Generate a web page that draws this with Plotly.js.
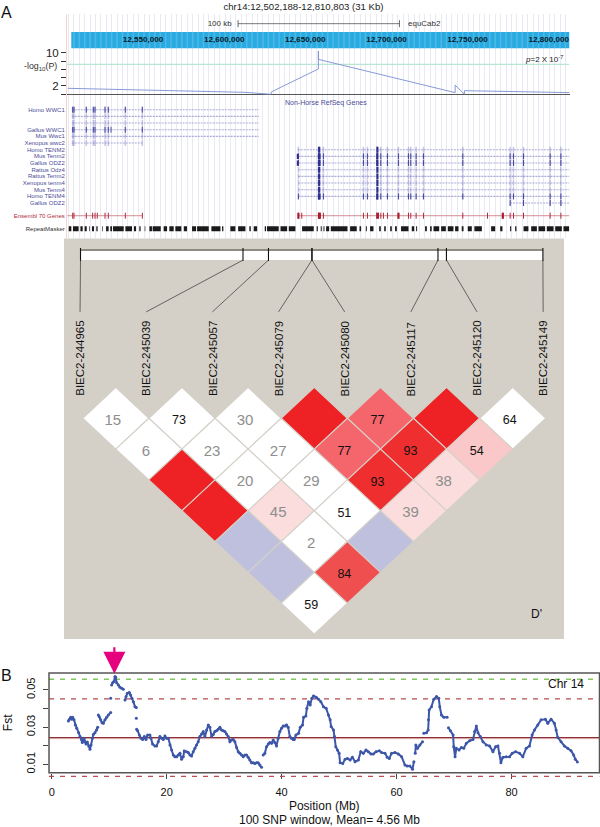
<!DOCTYPE html>
<html><head><meta charset="utf-8">
<script src="https://cdn.plot.ly/plotly-3.0.1.min.js"></script>
<style>html,body{margin:0;padding:0;background:#fff}</style></head>
<body><div id="chart" style="width:600px;height:827px"></div>
<script>
// ---------- Panel A : genome browser (positions in kb) ----------
const bandTicks = [12550,12600,12650,12700,12750,12800];
const bandLabels = ['12,550,000','12,600,000','12,650,000','12,700,000','12,750,000','12,800,000'];
const lodPos = [12491.06,12600.37,12616.21,12616.7,12645.56,12645.56,12645.56,12645.56,12729.83,12729.83,12735.56,12735.56,12800.43];
const lodVal = [1.44,0.47,0,0.6,6.1,10.4,6.1,8.4,0.4,2.2,0,0.87,0.4];
const threshold = 7.2;
const trackNames = ['Homo WWC1','','','Gallus WWC1','Mus Wwc1','Xenopus wwc2','Homo TENM2','Mus Tenm2','Gallus ODZ2','Rattus Odz4','Rattus Tenm2','Xenopus tenm4','Mus Tenm4','Homo TENM4','Gallus ODZ2'];
const geneStart = [12493.53,12493.53,12493.53,12493.53,12493.53,12493.53,12632.84,12633.25,12633.25,12633.25,12633.25,12633.25,12633.25,12633.25,12763.74];
const geneEnd = [12608.81,12608.81,12608.81,12608.81,12608.81,12537.05,12800.3,12800.3,12800.3,12800.3,12800.3,12800.3,12800.3,12800.3,12800.3];
const wwcExons = [12494.14,12494.95,12502.53,12506.85,12507.89,12514.06,12516.09,12526.57,12537.05];
const tenmExons = [12633.25,12645.58,12645.99,12646.61,12648.66,12673.32,12675.79,12681.54,12681.95,12684.01,12688.12,12694.9,12701.07,12702.5,12705.79,12710.31,12734.56,12763.74,12765.8,12771.96,12788.4,12795.0];
const tenmThick = [12645.99,12681.95];
const odz2Exons = [12763.74,12771.96,12788.4,12795.0];
const ensemblSpans = [[12490.84,12537.07],[12632.84,12800.32]];
const ensemblExons = [12494.14,12494.95,12502.53,12506.44,12507.89,12509.3,12514.06,12516.09,12526.57,12537.07,12633.25,12635.3,12645.58,12646.61,12648.66,12673.32,12675.79,12681.54,12682.57,12684.01,12685.65,12688.12,12694.9,12701.07,12702.5,12705.79,12710.31,12734.56,12749.77,12759.22,12763.74,12765.8,12771.96,12788.4,12795.0];
const ensemblThick = [12633.25,12645.99,12646.4,12682.0,12694.9,12759.22];
const repeatStart = [12491.7,12494.3,12498.9,12501.5,12504.4,12506.0,12508.7,12512.2,12514.7,12517.3,12519.0,12526.6,12531.9,12535.2,12538.5,12541.4,12543.4,12550.2,12553.7,12557.4,12562.6,12567.7,12570.8,12579.6,12586.2,12591.3,12596.1,12603.0,12605.7,12612.5,12613.9,12622.2,12627.3,12635.5,12644.5,12647.0,12648.7,12650.3,12653.2,12665.1,12670.9,12674.8,12677.4,12683.0,12686.1,12689.8,12692.8,12696.5,12703.1,12705.8,12711.3,12714.4,12716.5,12721.2,12725.3,12729.8,12733.9,12737.6,12741.7,12752.0,12757.6,12763.7,12766.8,12772.0,12776.7,12781.2,12786.3,12791.5,12796.6];
const repeatEnd = [12493.3,12497.8,12500.3,12502.8,12504.8,12507.3,12509.5,12512.6,12516.3,12518.4,12525.6,12530.7,12533.2,12536.0,12538.9,12543.0,12548.4,12552.3,12556.4,12561.1,12564.6,12570.2,12578.0,12585.2,12587.0,12594.4,12600.6,12603.9,12607.8,12613.3,12621.1,12626.3,12631.4,12642.7,12645.2,12647.6,12649.3,12652.2,12663.5,12669.2,12671.9,12675.4,12679.5,12684.0,12687.1,12690.8,12693.9,12701.1,12704.6,12706.4,12712.4,12715.4,12720.0,12724.1,12728.8,12731.9,12735.0,12740.1,12746.3,12754.5,12759.0,12764.4,12767.6,12775.0,12780.2,12785.3,12790.5,12795.6,12800.1];

// ---------- LD map ----------
const snpNames = ['BIEC2-244965','BIEC2-245039','BIEC2-245057','BIEC2-245079','BIEC2-245080','BIEC2-245117','BIEC2-245120','BIEC2-245149'];
const snpMapPos = [-0.033,2.423,2.808,3.465,3.465,5.37,5.498,6.956];
// D' by distance between markers; 100 draws no number. Low-LOD cells carry 'L'
const ldRow1 = [15,73,30,100,77,100,64];
const ldRow2 = [6,23,27,77,93,54];
const ldRow3 = [100,20,29,93,38];
const ldRow4 = [100,45,51,39];
const ldRow5 = ['L',2,'L'];
const ldRow6 = ['L',84];
const ldRow7 = [59];
const ldBlackText = [73,77,93,64,54,51,84,59];

// ---------- Panel B : Fst ----------
const fstPos = [2.90,3.07,3.30,3.48,3.65,3.88,4.11,4.35,4.69,4.92,5.21,5.33,5.62,5.79,5.97,6.20,6.43,6.66,6.84,7.07,7.24,7.53,7.82,8.00,null,
8.11,8.29,8.52,8.75,8.98,9.27,9.56,9.85,10.26,null,10.26,null,10.43,10.60,10.83,11.01,11.12,11.30,11.59,11.88,12.17,12.46,null,12.75,12.92,13.15,13.50,13.73,13.96,14.20,14.49,14.72,null,14.72,null,
14.77,14.95,15.24,15.53,15.82,16.11,16.40,16.69,17.09,17.27,17.56,17.96,18.25,18.54,18.83,19.12,19.41,19.70,19.99,20.28,20.57,20.86,21.15,21.44,21.73,22.02,22.31,22.60,22.89,23.06,23.47,23.76,24.05,24.33,24.62,24.91,25.20,25.49,25.78,26.07,26.36,26.65,26.94,27.23,27.52,27.81,28.10,28.39,28.68,28.97,29.26,29.55,29.84,30.13,30.42,30.71,31.00,31.29,31.58,31.87,32.16,32.45,32.74,33.03,33.32,33.61,33.90,34.18,34.47,34.76,35.05,35.34,35.63,35.92,36.21,36.50,null,
36.79,37.08,37.37,37.66,37.95,38.24,38.53,38.82,39.11,39.40,39.69,39.98,40.27,40.56,40.85,41.14,41.43,41.72,42.01,42.20,42.49,42.95,43.24,43.64,43.82,44.22,44.39,44.68,44.97,45.26,45.55,46.01,46.42,46.82,47.28,47.75,48.15,48.44,48.61,49.02,49.19,49.42,49.71,50.00,50.17,50.64,51.04,51.45,51.91,52.31,52.78,53.35,53.76,54.22,54.68,55.09,55.55,55.95,56.42,56.99,57.40,57.98,58.38,58.73,59.13,59.71,60.29,60.87,61.45,61.85,62.31,62.77,63.01,null,
63.24,63.35,63.64,64.05,64.51,null,64.74,65.20,65.49,65.55,65.66,66.07,66.47,66.94,67.34,67.51,67.80,68.21,68.79,null,69.02,69.36,69.83,69.94,70.17,70.40,70.87,71.27,71.68,72.14,72.72,73.29,73.58,73.87,74.16,74.57,75.03,75.61,76.18,76.76,77.22,77.63,77.92,78.15,78.50,79.07,79.65,80.11,80.69,81.39,81.96,82.54,83.12,83.58,83.99,84.57,85.14,85.89,86.30,86.88,87.46,87.75,88.03,88.61,89.19,89.77,90.35,90.81,91.10,91.45];
const fstVal = [.0333,.0342,.0353,.0342,.0353,.0339,.0312,.0294,.0270,.0249,.0234,.0217,.0240,.0222,.0209,.0220,.0199,.0181,.0204,.0240,.0261,.0270,.0285,.0299,null,
.0365,.0356,.0339,.0324,.0321,.0339,.0353,.0365,.0378,null,.0455,null,.0527,.0539,.0545,.0572,.0568,.0539,.0527,.0514,.0509,.0504,null,.0446,.0464,.0482,.0486,.0473,.0455,.0437,.0410,.0405,null,.0348,null,
.0288,.0281,.0258,.0240,.0234,.0249,.0234,.0258,.0258,.0240,.0209,.0199,.0199,.0222,.0249,.0240,.0234,.0252,.0240,.0240,.0204,.0177,.0150,.0141,.0141,.0150,.0159,.0127,.0141,.0172,.0168,.0163,.0150,.0145,.0168,.0186,.0204,.0222,.0249,.0263,.0276,.0249,.0285,.0312,.0299,.0249,.0261,.0276,.0281,.0288,.0299,.0285,.0281,.0276,.0263,.0249,.0222,.0231,.0234,.0222,.0191,.0168,.0159,.0150,.0141,.0150,.0150,.0138,.0123,.0109,.0109,.0105,.0109,.0109,.0096,.0084,null,
.0150,.0159,.0195,.0209,.0217,.0213,.0231,.0217,.0199,.0240,.0276,.0294,.0306,.0306,.0312,.0299,.0249,.0240,.0234,.0234,.0258,.0267,.0299,.0312,.0353,.0360,.0401,.0437,.0419,.0455,.0468,.0461,.0450,.0437,.0410,.0401,.0365,.0339,.0303,.0285,.0249,.0195,.0177,.0159,.0109,.0105,.0127,.0132,.0123,.0138,.0114,.0123,.0168,.0159,.0177,.0168,.0156,.0156,.0168,.0173,.0163,.0159,.0138,.0132,.0159,.0163,.0156,.0141,.0096,.0091,.0091,.0073,.0114,null,
.0159,.0204,.0186,.0204,.0222,null,.0267,.0270,.0285,.0339,.0392,.0410,.0450,.0464,.0455,.0410,.0365,.0353,.0353,null,.0297,.0281,.0258,.0195,.0141,.0186,.0177,.0191,.0186,.0213,.0227,.0234,.0276,.0306,.0270,.0249,.0222,.0204,.0199,.0168,.0195,.0199,.0159,.0109,.0138,.0141,.0141,.0159,.0168,.0159,.0141,.0186,.0199,.0258,.0285,.0312,.0339,.0342,.0321,.0342,.0321,.0285,.0245,.0222,.0199,.0186,.0173,.0150,.0127,.0113];
const fstUpper = 0.0557, fstUpper2 = 0.0452, fstMean = 0.0244, fstLower = 0.0035;
const fstPeak = 10.9;

// ---------- helpers ----------
const FONT = 'Liberation Sans, Arial, Helvetica, sans-serif';
const H = 827, W = 600;
const dx = (a,b)=>[a/W,b/W];
const dy = (top,bot)=>[1-bot/H,1-top/H];
const XA = [12490.63,12800.31];
const BLUE_TXT = '#4C4C98';
const traces = [];
function segs(list){
  const x=[],y=[];
  list.forEach(s=>{x.push(s[0],s[2],null);y.push(s[1],s[3],null);});
  return {x,y};
}
function addSegs(list,color,width,xa,ya,extra){
  const s=segs(list);
  traces.push(Object.assign({type:'scatter',mode:'lines',x:s.x,y:s.y,xaxis:xa,yaxis:ya,
    line:{color:color,width:width},hoverinfo:'skip',showlegend:false},extra||{}));
}
const ENS = 15.9, REP = 17.85, BAND = -10.42, RULER = -12.9;

// band
addSegs([[12493.28,BAND,XA[1],BAND]],'#29ABE2',16.3,'x','y');
const guides=[]; for(let g=XA[0]+0.9;g<XA[1];g+=3.329) if(g>12493.3) guides.push([g,BAND-1.22,g,BAND+1.22]);
addSegs(guides,'rgba(255,255,255,0.16)',1.6,'x','y');
traces.push({type:'scatter',mode:'text',x:bandTicks,y:bandTicks.map(()=>BAND),text:bandLabels,textposition:'middle left',
  textfont:{family:FONT,size:8.1,color:'#0a1a28',weight:700},xaxis:'x',yaxis:'y',hoverinfo:'skip',showlegend:false});
// ruler
traces.push({type:'scatter',mode:'lines+markers+text',x:[12596.05,12695.5],y:[RULER,RULER],text:['100 kb ','  equCab2'],textposition:['middle left','middle right'],
  textfont:{family:FONT,size:8,color:'#333'},line:{color:'#444',width:0.7},marker:{symbol:'line-ns',size:5,line:{color:'#444',width:0.8}},xaxis:'x',yaxis:'y',hoverinfo:'skip',showlegend:false,cliponaxis:false});

// gene rows
const intron=[],pale=[],dark=[],fat=[];
trackNames.forEach((n,r)=>{
  intron.push([geneStart[r],r,geneEnd[r],r]);
  const ex = r<6 ? wwcExons : (r===14 ? odz2Exons : tenmExons);
  const strong = r<6 ? (r===0||r===3) : (r===7||r===8||r===13||r===14);
  ex.forEach(e=>{
    pale.push([e,r-0.45,e,r+0.45]);
    if(strong) dark.push([e,r-0.45,e,r+0.45]);
  });
  if(r>=6&&r<14){
    tenmThick.forEach(e=>fat.push([e,r-0.45,e,r+0.45]));
    if(r===7||r===8) fat.push([12632.84,r-0.4,12632.84,r+0.4]);
  }
  if(r===3) dark.push([12517.76,r-0.45,12517.76,r+0.45]);
});
addSegs(intron,'#A9A9D8',1,'x','y',{line:{color:'#A9A9D8',width:1.1,dash:'2px,1px'}});
addSegs(pale,'rgba(110,110,190,0.4)',1.5,'x','y');
addSegs(dark,'#3A3A96',0.9,'x','y');
addSegs(fat,'#2E2E8C',2,'x','y');

// ensembl
addSegs(ensemblSpans.map(s=>[s[0],ENS,s[1],ENS]),'#D68C92',1,'x','y');
addSegs(ensemblExons.map(e=>[e,ENS-0.45,e,ENS+0.45]),'#B02A3C',1,'x','y');
addSegs(ensemblThick.map(e=>[e,ENS-0.45,e,ENS+0.45]),'#A8202F',2.2,'x','y');
// repeats
addSegs(repeatStart.map((s,i)=>[s,REP,repeatEnd[i],REP]),'#1a1a1a',5,'x','y');

// LOD
traces.push({type:'scatter',mode:'lines',x:XA,y:[threshold,threshold],xaxis:'x2',yaxis:'y2',line:{color:'#B9E6D2',width:1.2},hoverinfo:'skip',showlegend:false});
traces.push({type:'scatter',mode:'lines',x:lodPos,y:lodVal,xaxis:'x2',yaxis:'y2',line:{color:'#7A8ED2',width:0.9},hoverinfo:'skip',showlegend:false});

// LD panel
const HW=0.5,HH=1;
const ldRows=[ldRow1,ldRow2,ldRow3,ldRow4,ldRow5,ldRow6,ldRow7];
const shade={15:'#fff',73:'#fff',30:'#fff',64:'#fff',6:'#fff',23:'#fff',27:'#fff',20:'#fff',29:'#fff',51:'#fff',2:'#fff',59:'#fff',
  100:'#EE2224',77:'#F4666B',93:'#EF2F2F',84:'#F04F50',54:'#FAC8C8',45:'#FBDDDD',38:'#FBDDDD',39:'#FBDDDD','L':'#BFC0DE'};
const tx=[],ty=[],tt=[],tc=[],ts=[];
ldRows.forEach((row,k)=>{
  const r=k+1;
  row.forEach((v,c)=>{
    const u=c+0.5+k*0.5;
    traces.push({type:'scatter',mode:'lines',x:[u-HW,u,u+HW,u,u-HW],y:[r,r-HH,r,r+HH,r],fill:'toself',fillcolor:shade[v],
      line:{color:'#D4D0C8',width:1.1},xaxis:'x3',yaxis:'y3',hoverinfo:'skip',showlegend:false});
    if(v!=='L'&&v!==100){
      const blk=ldBlackText.includes(v);
      tx.push(u-0.045);ty.push(r+0.09);tt.push(String(v));tc.push(blk?'#111':'#8E8E8E');ts.push(blk?12.5:15);
    }
  });
});
traces.push({type:'scatter',mode:'text',x:tx,y:ty,text:tt,textfont:{family:FONT,color:tc,size:ts},textposition:'middle center',xaxis:'x3',yaxis:'y3',hoverinfo:'skip',showlegend:false});
// map bar
const mapL=snpMapPos[0],mapR=snpMapPos[7],barT=-4.46,barB=-4.13,lblTop=-2.45;
traces.push({type:'scatter',mode:'lines',x:[mapL,mapR,mapR,mapL,mapL],y:[barT,barT,barB,barB,barT],fill:'toself',fillcolor:'#fff',line:{width:0,color:'#fff'},xaxis:'x3',yaxis:'y3',hoverinfo:'skip',showlegend:false});
addSegs([[mapL,barT,mapR,barT]],'#8F8B84',2,'x3','y3');
addSegs(snpMapPos.map(p=>[p,-4.52,p,-4.1]),'#111',1.1,'x3','y3');
addSegs(snpMapPos.map((p,i)=>[p,barB,i-0.04,lblTop]),'#333',0.7,'x3','y3');

// Fst
const fullFst=[-0.47,95.3];
function hline(v,color,width,dash,xa,ya){
  traces.push({type:'scatter',mode:'lines',x:fullFst,y:[v,v],xaxis:xa||'x4',yaxis:ya||'y4',line:{color:color,width:width,dash:dash||'solid'},hoverinfo:'skip',showlegend:false});
}
hline(fstUpper,'#7FC95A',1.4,'5px,6px');
hline(fstUpper2,'#B84A50',1.3,'5px,6px');
hline(fstMean-0.0003,'#EFCFCF',2.4);
hline(fstMean,'#8E2F33',1.2);
hline(fstLower,'#B84A50',1.3,'5px,6px','x5','y5');   // lies just under the frame
traces.push({type:'scatter',mode:'lines+markers',x:fstPos,y:fstVal,xaxis:'x4',yaxis:'y4',connectgaps:false,
  line:{color:'#3C56A8',width:2},marker:{color:'#3C56A8',size:3},hoverinfo:'skip',showlegend:false,cliponaxis:false});

const ann=(text,x,y,size,opt)=>Object.assign({text,x:x/W,y:1-y/H,xref:'paper',yref:'paper',showarrow:false,font:{family:FONT,size,color:'#111'},xanchor:'center',yanchor:'middle'},opt||{});
const annotations=[
  ann('A',6.5,12.5,16),
  ann('B',6,675,16),
  ann('-log<sub>10</sub>(P)',40,66.5,8.8,{font:{family:FONT,size:8.8,color:'#333'}}),
  ann('<i>p</i>=2 X 10<sup>-7</sup>',565,59,8,{xanchor:'right',font:{family:FONT,size:8,color:'#222'}}),
  ann('Non-Horse RefSeq Genes',282.7,103,7,{xanchor:'left',font:{family:FONT,size:7,color:BLUE_TXT}}),
  ann("D'",536.7,614,12),
  ann('Chr 14',565.5,684,12),
  ann('100 SNP window, Mean= 4.56 Mb',329,820,12),
  {x:fstPeak,y:0.0587,xref:'x4',yref:'y4',axref:'pixel',ayref:'pixel',ax:0,ay:-28,text:'',showarrow:true,arrowhead:2,arrowsize:2,arrowwidth:2.2,arrowcolor:'#E6007E',standoff:0,startstandoff:0}
];
snpNames.forEach((n,i)=>annotations.push({text:n,x:i-0.04,y:-0.93,xref:'x3',yref:'y3',textangle:-90,showarrow:false,font:{family:FONT,size:11.5,color:'#111'},xanchor:'center',yanchor:'middle'}));

const rowVals=[],rowText=[];
trackNames.forEach((n,i)=>{ if(n){rowVals.push(i);rowText.push(n);} });
rowVals.push(ENS,REP);
rowText.push('<span style="color:#B02A3C">Ensembl 70 Genes</span>','<span style="color:#333">RepeatMasker</span>');

const layout={
  width:W,height:H,autosize:false,margin:{l:0,r:0,t:0,b:0},paper_bgcolor:'#fff',plot_bgcolor:'rgba(0,0,0,0)',
  font:{family:FONT,color:'#111'},showlegend:false,hovermode:false,
  title:{text:'chr14:12,502,188-12,810,803 (31 Kb)',x:303.5/W,xref:'paper',xanchor:'center',y:1-7/H,yref:'paper',yanchor:'middle',font:{family:FONT,size:9.6,color:'#222'}},
  xaxis:{domain:dx(67,569.5),range:XA,anchor:'y',showgrid:true,gridcolor:'#E9E9F3',gridwidth:1,tick0:XA[0]+0.9,dtick:3.329,showticklabels:false,ticks:'',zeroline:false,showline:false},
  yaxis:{domain:dy(14,238),range:[19.24,-14.35],anchor:'x',tickmode:'array',tickvals:rowVals,ticktext:rowText,tickfont:{family:FONT,size:6,color:BLUE_TXT},ticks:'',showgrid:false,zeroline:false,showline:true,linecolor:'#F6D5CF',linewidth:1},
  xaxis2:{domain:dx(67,569.5),range:XA,anchor:'y2',visible:false},
  yaxis2:{domain:dy(50,96),range:[-0.41,10.65],anchor:'x2',tickmode:'array',tickvals:[2,10],ticktext:['2','10'],ticks:'outside',ticklen:5,tickwidth:1,tickcolor:'#333',
    minor:{tickmode:'array',tickvals:[0,4,6,8],ticks:'outside',ticklen:5,tickwidth:1,tickcolor:'#333',showgrid:false},
    tickfont:{family:FONT,size:11.5,color:'#222'},showgrid:false,showline:false,zeroline:true,zerolinecolor:'#555',zerolinewidth:1},
  xaxis3:{domain:dx(64,564),range:[-0.2826,7.275],anchor:'y3',visible:false},
  yaxis3:{domain:dy(238.5,639),range:[8.16,-4.83],anchor:'x3',visible:false},
  xaxis4:{domain:dx(49,599.5),range:fullFst,anchor:'y4',tickmode:'array',tickvals:[0,20,40,60,80],ticks:'outside',ticklen:5,tickwidth:1,tickcolor:'#444',tickfont:{family:FONT,size:11,color:'#111'},showgrid:false,zeroline:false,showline:false,
    ticklabelstandoff:4,title:{text:'Position (Mb)',font:{family:FONT,size:12,color:'#111'},standoff:4}},
  yaxis4:{domain:dy(673,772.7),range:[0.0055,0.0591],anchor:'x4',tickmode:'array',tickvals:[.01,.03,.05],ticktext:['0.01','0.03','0.05'],tickangle:-90,ticks:'outside',ticklen:5,tickwidth:1,tickcolor:'#444',
    minor:{tickmode:'array',tickvals:[.02,.04],ticks:'outside',ticklen:5,tickwidth:1,tickcolor:'#444',showgrid:false},
    tickfont:{family:FONT,size:11,color:'#111'},showgrid:false,zeroline:false,showline:false,
    ticklabelstandoff:4,title:{text:'Fst',font:{family:FONT,size:12,color:'#111'},standoff:9}},
  xaxis5:{domain:dx(49,599.5),range:fullFst,anchor:'y5',visible:false},
  yaxis5:{domain:dy(660,785),range:[-0.0011,0.0661],anchor:'x5',visible:false},
  shapes:[
    {type:'rect',xref:'paper',yref:'paper',x0:64/W,x1:564/W,y0:1-639/H,y1:1-238.5/H,fillcolor:'#D4D0C8',line:{width:0},layer:'below'},
    {type:'rect',xref:'x4 domain',yref:'y4 domain',x0:0,x1:1,y0:0,y1:1,fillcolor:'rgba(0,0,0,0)',line:{color:'#555',width:1.5},layer:'above'}
  ],
  annotations
};
Plotly.newPlot('chart',traces,layout,{displayModeBar:false,staticPlot:true});
</script></body></html>
